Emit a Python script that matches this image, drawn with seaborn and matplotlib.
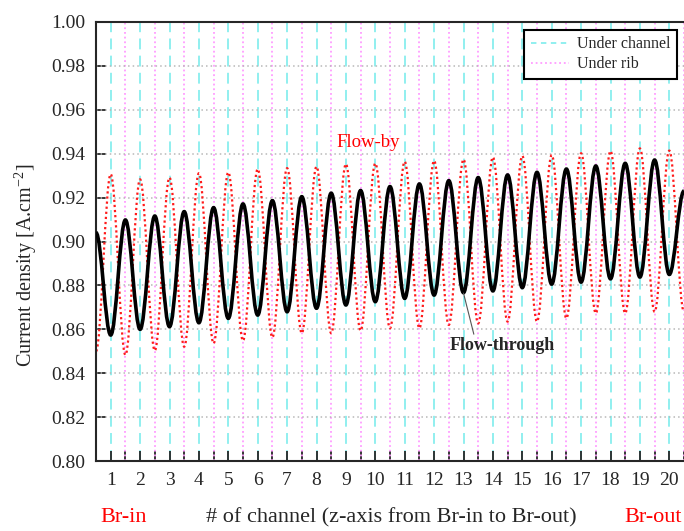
# current density along the channels: flow-through vs flow-by

import matplotlib
matplotlib.use("Agg")
import matplotlib.pyplot as plt
from matplotlib.lines import Line2D
from matplotlib.path import Path
from matplotlib.patches import PathPatch
import seaborn as sns

# channel index (under channel) and the positions between them (under rib)
channels = list(range(1, 21))
ribs = [c - 0.5 for c in range(1, 22)]          # 0.5 ... 20.5
tick_labels = [str(c) for c in channels]
y_ticks = [0.80, 0.82, 0.84, 0.86, 0.88, 0.90, 0.92, 0.94, 0.96, 0.98, 1.00]

# flow-through: minima under the channels, maxima under the ribs
through_channel = [0.8574, 0.8600, 0.8612, 0.8630, 0.8650, 0.8665, 0.8680, 0.8696,
                   0.8711, 0.8726, 0.8741, 0.8756, 0.8767, 0.8775, 0.8790, 0.8806,
                   0.8815, 0.8830, 0.8838, 0.8850]
through_rib = [0.9040, 0.9098, 0.9116, 0.9136, 0.9154, 0.9171, 0.9186, 0.9204,
               0.9220, 0.9232, 0.9250, 0.9262, 0.9277, 0.9291, 0.9303, 0.9315,
               0.9330, 0.9344, 0.9356, 0.9371, 0.9230]

# flow-by: maxima under the channels, minima under the ribs
by_channel = [0.9307, 0.9283, 0.9291, 0.9311, 0.9315, 0.9330, 0.9334, 0.9341,
              0.9353, 0.9356, 0.9364, 0.9368, 0.9374, 0.9384, 0.9390, 0.9394,
              0.9402, 0.9412, 0.9424, 0.9414]
by_rib = [0.8500, 0.8483, 0.8503, 0.8521, 0.8536, 0.8548, 0.8563, 0.8582,
          0.8582, 0.8594, 0.8605, 0.8605, 0.8620, 0.8627, 0.8635, 0.8635,
          0.8650, 0.8673, 0.8673, 0.8680, 0.8680]


def wave(ch_vals, rib_vals):
    # the read extrema, in order along the channel axis,
    # joined by smooth cubic segments with flat tangents at each extremum
    pts = sorted(zip(channels + ribs, ch_vals + rib_vals))
    verts = [pts[0]]
    codes = [Path.MOVETO]
    for (x0, y0), (x1, y1) in zip(pts[:-1], pts[1:]):
        d = 0.364 * (x1 - x0)
        verts += [(x0 + d, y0), (x1 - d, y1), (x1, y1)]
        codes += [Path.CURVE4] * 3
    return Path(verts, codes)


sns.set_style("ticks")
plt.rcParams.update({
    "font.family": ["Liberation Serif", "DejaVu Serif"],
    "mathtext.fontset": "custom",
    "mathtext.rm": "Liberation Serif",
    "axes.linewidth": 1.5,
    "xtick.direction": "in",
    "ytick.direction": "in",
})

fig = plt.figure(figsize=(6.84, 5.31), dpi=100)
ax = fig.add_axes([96 / 684, 70 / 531, 588 / 684, 439 / 531])

# vertical guides
for c in channels:
    ax.axvline(c, color="#88eeee", ls=(0, (6, 3.5)), lw=1.3, zorder=0.5)
for r in ribs:
    ax.axvline(r, color="#ff9cff", ls=(0, (1, 1.6)), lw=1.3, zorder=0.6)

# horizontal grid
for v in y_ticks[1:-1]:
    ax.axhline(v, color="#b8b8b8", ls=(0, (1, 2)), lw=1.1, zorder=0.7)

ax.add_patch(PathPatch(wave(by_channel, by_rib), facecolor="none", edgecolor="#ff1a1a",
                       lw=1.6, ls=(0, (1, 1.3)), zorder=2))
ax.add_patch(PathPatch(wave(through_channel, through_rib), facecolor="none",
                       edgecolor="black", lw=2.6, zorder=3))

ax.set_xlim(0.5, 20.5)
ax.set_ylim(0.80, 1.00)
ax.set_xticks(channels)
ax.set_xticklabels(tick_labels)
ax.set_xticks(ribs, minor=True)
ax.set_yticks(y_ticks)
ax.set_yticklabels([f"{v:.2f}" for v in y_ticks])
ax.tick_params(axis="both", which="both", length=7, width=1.3, labelsize=14, pad=8)
ax.tick_params(axis="x", which="both", top=False)
ax.tick_params(axis="y", right=False)
ax.spines["right"].set_visible(False)

fig.text(0.038, 0.50, r"Current density [A.cm$^{-2}$]", rotation=90,
         ha="center", va="center", fontsize=14.5)
fig.text(124 / 684, 0.025, "Br-in", color="red", ha="center", va="center", fontsize=16)
fig.text(391 / 684, 0.025, "# of channel (z-axis from Br-in to Br-out)",
         ha="center", va="center", fontsize=16)
fig.text(682 / 684, 0.025, "Br-out", color="red", ha="right", va="center", fontsize=16)

ax.text(9.76, 0.9449, "Flow-by", color="red", ha="center", va="center", fontsize=13.5)
ax.annotate("Flow-through", xy=(13.0, 0.8765), xytext=(14.31, 0.8524),
            ha="center", va="center", fontsize=13, fontweight="bold",
            arrowprops=dict(arrowstyle="-", color="#555555", lw=0.8,
                            relpos=(0.24, 1.0), shrinkA=0, shrinkB=0))

handles = [Line2D([], [], color="#88eeee", ls=(0, (3, 2.5)), lw=1.3),
           Line2D([], [], color="#ff9cff", ls=(0, (1, 1.6)), lw=1.3)]
leg = ax.legend(handles, ["Under channel", "Under rib"], loc="upper right",
                bbox_to_anchor=(0.988, 0.982), borderaxespad=0, fontsize=11.5,
                fancybox=False, framealpha=1, edgecolor="black",
                handlelength=2.4, handletextpad=0.5, borderpad=0.4,
                labelspacing=0.25)
leg.get_frame().set_linewidth(1.5)

fig.savefig("out.png", dpi=100)
